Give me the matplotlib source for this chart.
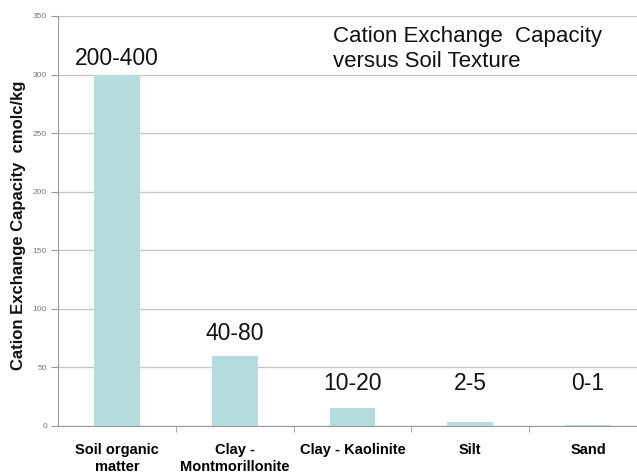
import numpy as np
import matplotlib
matplotlib.use("Agg")
import matplotlib.pyplot as plt

plt.rcParams['font.family'] = ['Liberation Sans', 'DejaVu Sans']

categories = ['Soil organic\nmatter', 'Clay -\nMontmorillonite', 'Clay - Kaolinite', 'Silt', 'Sand']
cec_values = [300, 60, 15, 3, 1]
range_labels = ['200-400', '40-80', '10-20', '2-5', '0-1']
label_heights = [308, 73, 31, 31, 31]  # where the range text sits (data units)

BAR_COLOR = '#b4dcdf'
GRID_COLOR = '#c8c8c8'

fig = plt.figure(figsize=(6.37, 4.75), dpi=100)
# chart is cropped on the right in the source, so the axes run past the figure edge
ax = fig.add_axes([58 / 637, 1 - 426 / 475, 589 / 637, 410 / 475])

x = np.arange(len(categories))
ax.bar(x, cec_values, width=0.39, color=BAR_COLOR, zorder=2)

for xi, lab, yh in zip(x, range_labels, label_heights):
    ax.text(xi, yh, lab, ha='center', va='baseline', fontsize=16.5, color='#111111')

ax.set_xlim(-0.5, len(categories) - 0.5)
ax.set_ylim(0, 350)
ax.set_yticks(np.arange(0, 351, 50))
ax.yaxis.grid(True, color=GRID_COLOR, linewidth=1.0, zorder=0)
ax.set_axisbelow(True)

ax.set_xticks(x)
ax.set_xticklabels(categories, fontsize=10.5, fontweight='bold', linespacing=1.3)
ax.set_xticks(np.arange(0.5, len(categories) - 0.5, 1), minor=True)
ax.tick_params(axis='x', which='major', length=0, pad=12)
ax.tick_params(axis='x', which='minor', length=4, color='#9a9a9a', direction='out')
ax.tick_params(axis='y', labelsize=6, labelcolor='#7a7a7a', length=5, color='#9a9a9a', pad=3)

for side in ['top', 'right']:
    ax.spines[side].set_visible(False)
ax.spines['left'].set_color('#9a9a9a')
ax.spines['bottom'].set_color('#9a9a9a')

fig.text(19 / 637, 1 - 225 / 475, 'Cation Exchange Capacity  cmolc/kg', rotation=90,
         ha='center', va='center', fontsize=12, fontweight='bold', color='#111111')

fig.text(333 / 637, 1 - 42 / 475, 'Cation Exchange  Capacity', ha='left', va='baseline',
         fontsize=16, color='#111111')
fig.text(333 / 637, 1 - 67 / 475, 'versus Soil Texture', ha='left', va='baseline',
         fontsize=16, color='#111111')

fig.savefig('out.png', dpi=100)
